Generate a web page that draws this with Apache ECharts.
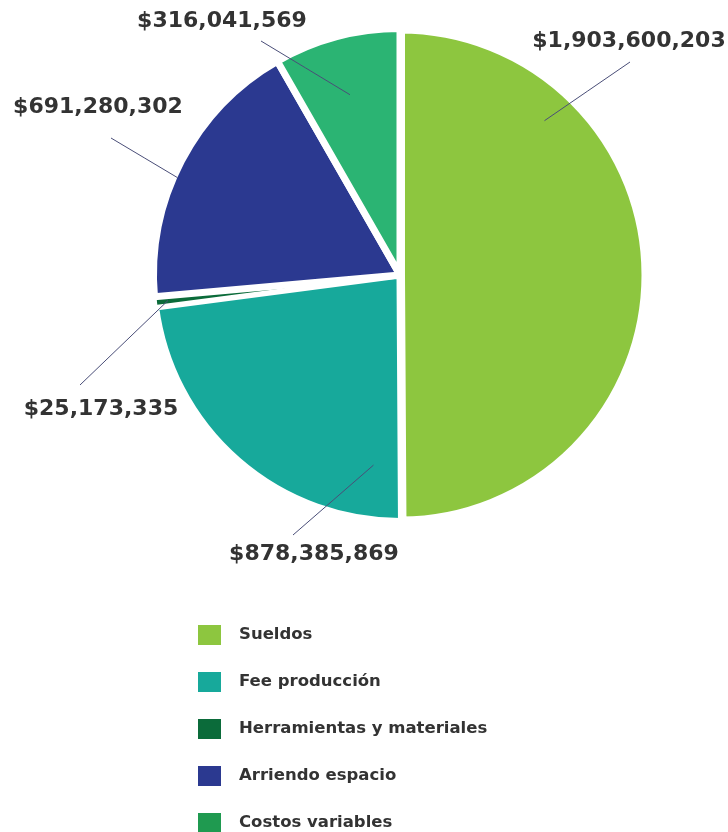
<!DOCTYPE html>
<html>
<head>
<meta charset="utf-8">
<title>Distribución de costos</title>
<script src="https://cdn.jsdelivr.net/npm/echarts@6/dist/echarts.min.js"></script>
<style>
  html, body { margin: 0; padding: 0; background: #ffffff; }
  #chart { width: 728px; height: 832px; }
</style>
</head>
<body>
<div id="chart"></div>
<script>
// Cost categories and their amounts (CLP)
const categories = ['Sueldos', 'Fee producción', 'Herramientas y materiales', 'Arriendo espacio', 'Costos variables'];
const amounts = [1903600203, 878385869, 25173335, 691280302, 316041569];

// Slice and legend swatch colours
const sliceColors = ['#8dc63f', '#17a99b', '#0b6b3a', '#2b3990', '#2bb473'];
const legendColors = ['#8dc63f', '#17a99b', '#0b6b3a', '#2b3990', '#1f9a50'];
// White separation drawn around each slice
const sliceBorders = [10, 7, 4, 7, 7];

// Pie geometry
const PIE_CX = 400, PIE_CY = 275, PIE_R = 243;

// Callout placement: line starts inside the slice (fraction t along its arc,
// fraction r of the radius); end point and text centre are offsets from the pie centre.
const callouts = [
  { t: 0.24, r: 0.87, end: [230, -213], text: [229, -234] },
  { t: 0.10, r: 0.79, end: [-107, 260], text: [-86, 279] },
  { t: 0.50, r: 0.96, end: [-320, 110], text: [-299, 134] },
  { t: 0.44, r: 1.00, end: [-289, -137], text: [-302, -168] },
  { t: 0.48, r: 0.77, end: [-139, -234], text: [-178, -254] }
];

const total = amounts.reduce((a, b) => a + b, 0);
const startFrac = [];
amounts.reduce((acc, v, i) => { startFrac[i] = acc; return acc + v; }, 0);

function formatMoney(v) {
  return '$' + v.toLocaleString('en-US');
}

const chart = echarts.init(document.getElementById('chart'), null, { renderer: 'canvas' });

const pieBase = {
  type: 'pie',
  center: [PIE_CX, PIE_CY],
  radius: [0, PIE_R + 3.5],
  startAngle: 90,
  clockwise: true,
  avoidLabelOverlap: false,
  emphasis: { disabled: true }
};

chart.setOption({
  backgroundColor: '#ffffff',
  animation: false,
  legend: {
    orient: 'vertical',
    left: 191,
    top: 618,
    height: 260,
    icon: 'rect',
    itemWidth: 25,
    itemHeight: 22,
    itemGap: 23,
    selectedMode: false,
    textStyle: {
      fontFamily: 'DejaVu Sans',
      fontWeight: 'bold',
      fontSize: 16.5,
      lineHeight: 20,
      color: '#333333',
      padding: [0, 0, 0, 12]
    },
    data: categories.map((name, i) => ({ name, itemStyle: { color: legendColors[i] } }))
  },
  series: [
    // Filled slices
    Object.assign({}, pieBase, {
      z: 2,
      itemStyle: { borderColor: '#ffffff', borderWidth: 7 },
      label: { show: false },
      labelLine: { show: false },
      data: categories.map((name, i) => ({
        name,
        value: amounts[i],
        itemStyle: { color: sliceColors[i], borderWidth: sliceBorders[i] }
      }))
    }),
    // Value callouts drawn above the slices
    Object.assign({}, pieBase, {
      z: 5,
      silent: true,
      itemStyle: { color: 'rgba(0,0,0,0)', borderWidth: 0 },
      label: {
        show: true,
        position: 'outside',
        formatter: p => formatMoney(p.value),
        fontFamily: 'DejaVu Sans',
        fontWeight: 'bold',
        fontSize: 22,
        color: '#333333'
      },
      labelLine: {
        show: true,
        lineStyle: { color: '#4a4e78', width: 1 }
      },
      labelLayout: function (params) {
        const i = params.dataIndex;
        const c = callouts[i];
        const theta = (startFrac[i] + c.t * amounts[i]) / total * 2 * Math.PI;
        const sx = PIE_CX + c.r * PIE_R * Math.sin(theta);
        const sy = PIE_CY - c.r * PIE_R * Math.cos(theta);
        const ex = PIE_CX + c.end[0];
        const ey = PIE_CY + c.end[1];
        return {
          x: PIE_CX + c.text[0],
          y: PIE_CY + c.text[1],
          align: 'center',
          verticalAlign: 'middle',
          labelLinePoints: [[sx, sy], [(sx + ex) / 2, (sy + ey) / 2], [ex, ey]]
        };
      },
      data: categories.map((name, i) => ({ name, value: amounts[i] }))
    })
  ]
});
</script>
</body>
</html>
